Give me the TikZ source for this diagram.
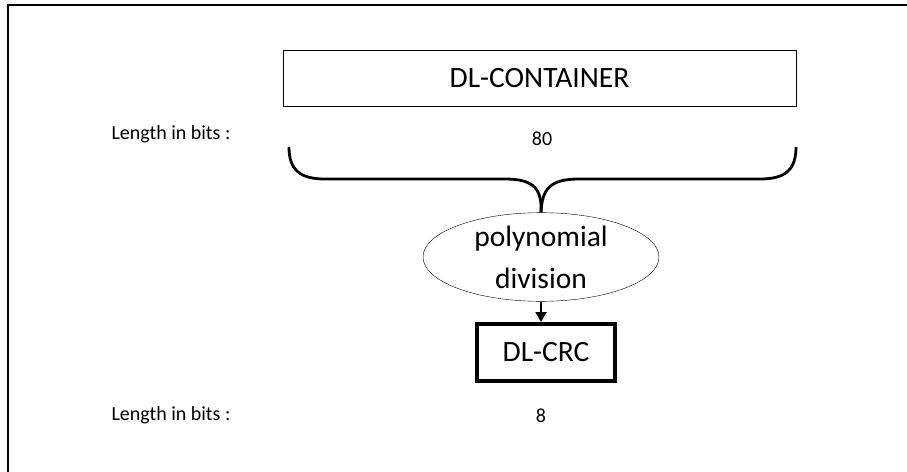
\documentclass[tikz,border=0pt]{standalone}
\usepackage{fontspec}
\setmainfont{Carlito}
\usetikzlibrary{shapes.geometric,arrows.meta,positioning}

\tikzset{
  bigtext/.style={font=\fontsize{29.5}{42}\selectfont},
  smalltext/.style={font=\fontsize{20}{24}\selectfont},
  field/.style={draw,thin,rectangle,bigtext,inner sep=0pt},
}

\begin{document}
\begin{tikzpicture}[x=1pt,y=-1pt]
            \useasboundingbox (0,0) rectangle (907,471);
            \clip (0,0) rectangle (907,471);
            \draw[line width=2pt] (8,480) -- (8,5) -- (920,5);

            \node[field,minimum width=513,minimum height=56] (container) at (539.5,78) {DL-CONTAINER};
            \node[smalltext] (lenA) at (171,134) {Length in bits :};
            \node[smalltext] (bitsA) at (542,139) {80};

            \node[draw,thin,ellipse,bigtext,align=center,minimum width=236,minimum height=86,inner sep=0pt] (poly) at (541,257) {polynomial\\division};
            \node[field,line width=4pt,minimum width=138,minimum height=57] (crc) at (546,352.5) {DL-CRC};

            \node[smalltext] (lenB) at (171,415) {Length in bits :};
            \node[smalltext] (bitsB) at (541,416) {8};

            % brace under the container
            \coordinate (braceL) at (289,147);
            \coordinate (braceR) at (796,147);
            \draw[line width=2.8pt] (braceL) .. controls (289,170) and (300,179) .. (325,179) -- (505,179)
                  .. controls (535,179) and (542,190) .. (poly.north);
            \draw[line width=2.8pt] (braceR) .. controls (796,170) and (785,179) .. (760,179) -- (579,179)
                  .. controls (549,179) and (542,190) .. (poly.north);

            \draw[line width=2pt,-{Triangle[length=10pt,width=11pt]}] (poly.south) -- (poly.south |- crc.north);
\end{tikzpicture}
\end{document}
